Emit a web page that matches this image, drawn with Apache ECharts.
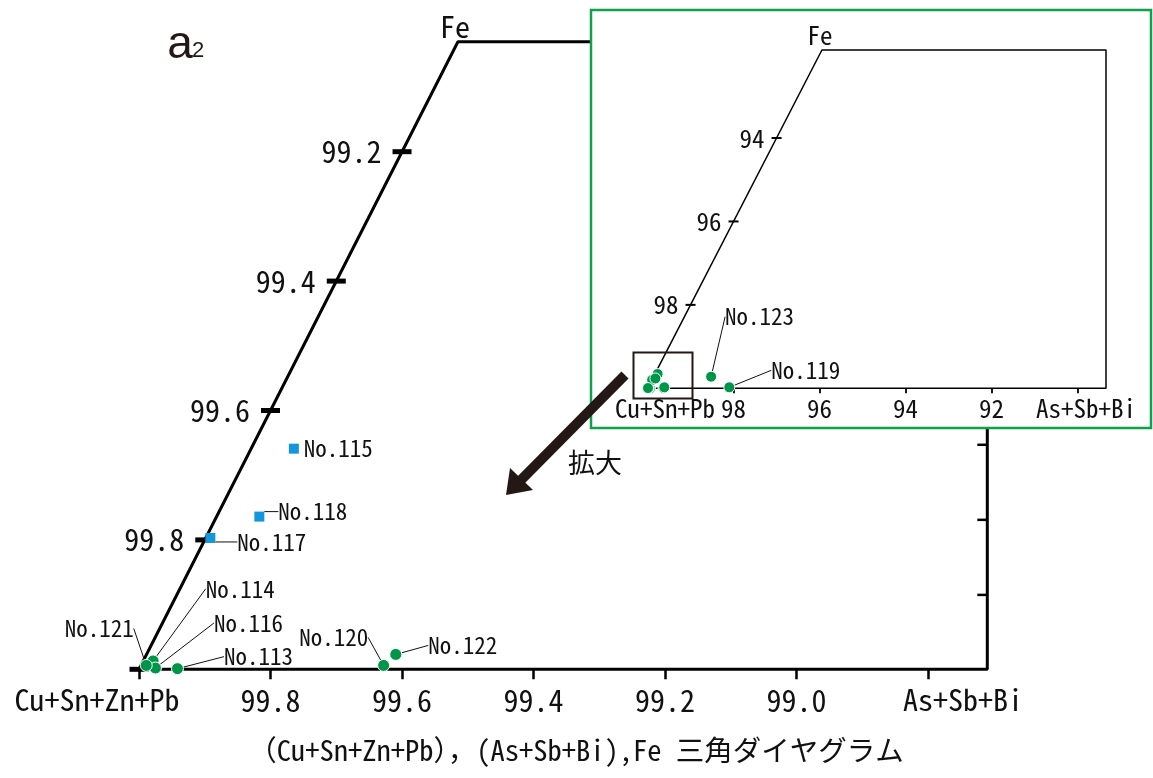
<!DOCTYPE html>
<html><head><meta charset="utf-8">
<script src="https://cdn.jsdelivr.net/npm/echarts@6/dist/echarts.min.js"></script>
<style>html,body{margin:0;padding:0;background:#fff}#c{width:1153px;height:778px}</style>
</head><body><div id="c"></div>
<script>
// ---------------- data (percent) ----------------
const sampleNames = ['No.113','No.114','No.115','No.116','No.117','No.118','No.119','No.120','No.121','No.122','No.123'];
const asSbBi      = [0.058, 0.015, 0.065, 0.024, 0.007, 0.065, 1.89, 0.369, 0.008, 0.379, 1.34];
const feValues    = [0.001, 0.013, 0.341, 0.002, 0.203, 0.236, 0.024, 0.006, 0.006, 0.023, 0.278];
const squareSamples = ['No.115','No.117','No.118'];

const mainFeTicks      = [0, 0.2, 0.4, 0.6, 0.8];
const mainBottomTicks  = [0, 0.2, 0.4, 0.6, 0.8, 1.0, 1.2];
const mainBottomLabels = [0.2, 0.4, 0.6, 0.8, 1.0];
const mainRightTicks   = [0.115, 0.231, 0.347];
const mainExtent  = { fe: 0.97, x: 1.29 };

const insetFeTicks      = [0, 2, 4, 6];
const insetBottomTicks  = [0, 2, 4, 6, 8, 10];
const insetBottomLabels = [2, 4, 6, 8];
const insetExtent = { fe: 8.11, x: 10.66 };

// ---------------- styles ----------------
const FF = '"Noto Sans Mono CJK JP","Noto Sans CJK JP","DejaVu Sans",sans-serif';
const INK = '#111111';
const ARROW = '#231815';
const GREEN = '#00964a';
const BLUE = '#1496dc';
const FRAME_GREEN = '#12a04c';

const mainLabelStyle = {
  'No.115': { pos: 'right', dx: 0,  dy: 0, line: false },
  'No.118': { pos: 'right', dx: 9,  dy: -5 },
  'No.117': { pos: 'right', dx: 17, dy: 4 },
  'No.120': { pos: 'left',  dx: -4, dy: -28 },
  'No.122': { pos: 'right', dx: 21, dy: -9 },
  'No.113': { pos: 'right', dx: 35, dy: -12 },
  'No.116': { pos: 'right', dx: 47, dy: -45 },
  'No.114': { pos: 'right', dx: 41, dy: -72 },
  'No.121': { pos: 'left',  dx: -1, dy: -37 }
};
const insetLabelStyle = {
  'No.123': { pos: 'right', dx: 3,  dy: -60 },
  'No.119': { pos: 'right', dx: 31, dy: -17 }
};

// ternary (sheared) projection: x = As + Fe/2, y = Fe
const proj = (a, f) => [a + f / 2, f];
const frameData = ext => [[0, 0], proj(0, ext.fe), [ext.x, ext.fe], [ext.x, 0], [0, 0]];

function buildPoints(filterFn, labelStyle) {
  const items = [], offs = [];
  sampleNames.forEach((n, i) => {
    if (!filterFn(n)) return;
    const st = labelStyle[n];
    items.push({
      name: n,
      value: proj(asSbBi[i], feValues[i]),
      label: st ? { show: true, position: st.pos } : { show: false },
      labelLine: { show: !!(st && st.line !== false) }
    });
    offs.push(st ? { dx: st.dx, dy: st.dy } : { dx: 0, dy: 0 });
  });
  return { items, offs };
}

const mainGreen = buildPoints(n => squareSamples.indexOf(n) < 0, mainLabelStyle);
const mainBlue  = buildPoints(n => squareSamples.indexOf(n) >= 0, mainLabelStyle);
const insetPts  = buildPoints(n => true, insetLabelStyle);

const pointLabel = { fontFamily: FF, fontSize: 23, color: INK, distance: 5 };
const leader = { lineStyle: { color: INK, width: 1 } };

function txt(text, x, y, size, z, extra) {
  return {
    type: 'text', x: x, y: y, z: z || 15,
    style: Object.assign({ text: text, fontFamily: FF, fontSize: size, fill: INK, align: 'center', verticalAlign: 'middle' }, extra || {})
  };
}

const chart = echarts.init(document.getElementById('c'), null, { renderer: 'canvas' });
chart.setOption({
  animation: false,
  backgroundColor: '#fff',
  grid: [
    { left: 139, top: 41.7, width: 848.3, height: 627.6 },
    { left: 647.5, top: 50, width: 458.5, height: 338.3 }
  ],
  xAxis: [
    { gridIndex: 0, type: 'value', min: 0, max: mainExtent.x,
      axisLine: { show: false }, splitLine: { show: false },
      axisTick: { show: true, customValues: mainBottomTicks, length: 10, lineStyle: { color: '#000', width: 2.5 } },
      axisLabel: { show: true, customValues: mainBottomLabels, margin: 16, fontFamily: FF, fontSize: 30, color: INK,
        formatter: v => (100 - v).toFixed(1) } },
    { gridIndex: 1, type: 'value', min: 0, max: insetExtent.x, z: 12,
      axisLine: { show: false }, splitLine: { show: false },
      axisTick: { show: true, customValues: insetBottomTicks, length: 5, lineStyle: { color: '#000', width: 1.8 } },
      axisLabel: { show: true, customValues: insetBottomLabels, margin: 8, fontFamily: FF, fontSize: 25, color: INK,
        formatter: v => (100 - v).toFixed(0) } }
  ],
  yAxis: [
    { gridIndex: 0, type: 'value', min: 0, max: mainExtent.fe, show: false },
    { gridIndex: 1, type: 'value', min: 0, max: insetExtent.fe, show: false }
  ],
  series: [
    // ---- main ----
    { type: 'line', xAxisIndex: 0, yAxisIndex: 0, data: frameData(mainExtent), symbol: 'none', clip: false,
      lineStyle: { color: '#000', width: 3 }, z: 2, silent: true },
    { type: 'scatter', xAxisIndex: 0, yAxisIndex: 0, clip: false, z: 3,
      data: mainFeTicks.map(t => ({ value: proj(0, t), label: { show: t > 0 } })),
      symbol: 'rect', symbolSize: [19, 5], itemStyle: { color: '#000', opacity: 1 },
      label: { position: 'left', distance: 11, fontFamily: FF, fontSize: 30, color: INK,
        formatter: p => (100 - p.value[1]).toFixed(1) } },
    { type: 'scatter', xAxisIndex: 0, yAxisIndex: 0, clip: false, z: 3,
      data: mainRightTicks.map(t => [mainExtent.x, t]),
      symbol: 'rect', symbolSize: [10, 2.5], symbolOffset: [-5, 0], itemStyle: { color: '#000', opacity: 1 } },
    { type: 'scatter', xAxisIndex: 0, yAxisIndex: 0, z: 4, data: mainGreen.items,
      symbol: 'circle', symbolSize: 12, itemStyle: { color: GREEN, opacity: 1, borderColor: '#fff', borderWidth: 1 },
      label: Object.assign({ formatter: '{b}' }, pointLabel), labelLine: leader,
      labelLayout: p => mainGreen.offs[p.dataIndex] },
    { type: 'scatter', xAxisIndex: 0, yAxisIndex: 0, z: 4, data: mainBlue.items,
      symbol: 'rect', symbolSize: 10, itemStyle: { color: BLUE, opacity: 1 },
      label: Object.assign({ formatter: '{b}' }, pointLabel), labelLine: leader,
      labelLayout: p => mainBlue.offs[p.dataIndex] },
    // ---- inset ----
    { type: 'line', xAxisIndex: 1, yAxisIndex: 1, data: frameData(insetExtent), symbol: 'none', clip: false,
      lineStyle: { color: '#000', width: 1.5 }, z: 10, silent: true },
    { type: 'scatter', xAxisIndex: 1, yAxisIndex: 1, clip: false, z: 11,
      data: insetFeTicks.map(t => ({ value: proj(0, t), label: { show: t > 0 } })),
      symbol: 'rect', symbolSize: [10, 2], itemStyle: { color: '#000', opacity: 1 },
      label: { position: 'left', distance: 7, fontFamily: FF, fontSize: 25, color: INK,
        formatter: p => (100 - p.value[1]).toFixed(0) } },
    { type: 'scatter', xAxisIndex: 1, yAxisIndex: 1, z: 12, data: insetPts.items,
      symbol: 'circle', symbolSize: 11, itemStyle: { color: GREEN, opacity: 1, borderColor: '#fff', borderWidth: 1 },
      label: Object.assign({ formatter: '{b}' }, pointLabel), labelLine: leader,
      labelLayout: p => insetPts.offs[p.dataIndex] }
  ],
  graphic: [
    { type: 'rect', z: 5, shape: { x: 591, y: 10, width: 560, height: 418 },
      style: { fill: '#fff', stroke: FRAME_GREEN, lineWidth: 2.5 } },
    { type: 'rect', z: 15, shape: { x: 633.5, y: 352.5, width: 59, height: 46 },
      style: { fill: 'none', stroke: ARROW, lineWidth: 2 } },
    { type: 'line', z: 20, shape: { x1: 625, y1: 375, x2: 519, y2: 482 },
      style: { stroke: ARROW, lineWidth: 10 } },
    { type: 'polygon', z: 20, shape: { points: [[506, 495], [510, 468], [533, 490]] },
      style: { fill: ARROW } },
    txt('拡大', 595, 463, 27, 20),
    txt('a', 180, 45, 46, 15, { fontFamily: '"Liberation Sans",Arial,sans-serif', fill: ARROW }),
    txt('2', 198, 51, 22, 15, { fontFamily: '"Liberation Sans",Arial,sans-serif', fill: ARROW }),
    txt('Fe', 455, 27, 30, 15),
    txt('Cu+Sn+Zn+Pb', 97, 700, 30, 15),
    txt('As+Sb+Bi', 963, 700, 30, 15),
    txt('Fe', 820, 35, 25, 16),
    txt('Cu+Sn+Pb', 665, 408, 25, 16),
    txt('As+Sb+Bi', 1086, 408, 25, 16),
    txt('（Cu+Sn+Zn+Pb），(As+Sb+Bi),Fe 三角ダイヤグラム', 576, 750, 28.5, 15)
  ]
});
</script>
</body></html>
